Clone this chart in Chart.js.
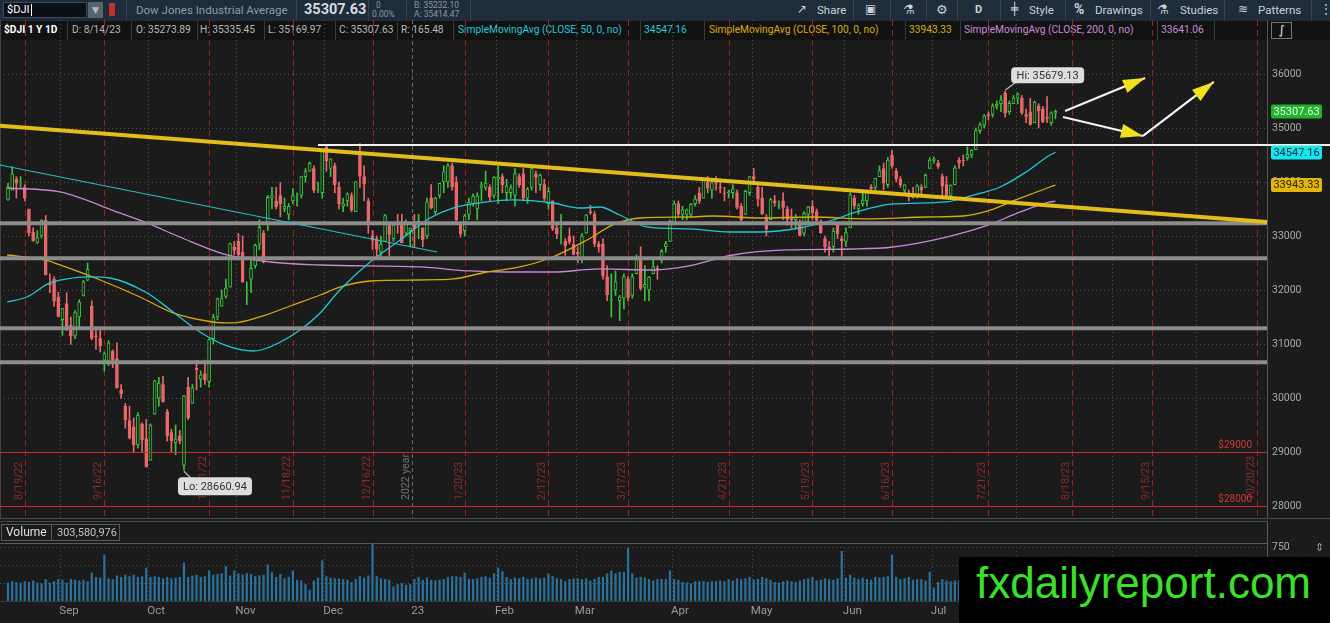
<!DOCTYPE html>
<html>
<head>
<meta charset="utf-8">
<title>$DJI 1 Y 1D</title>
<script src="https://cdn.jsdelivr.net/npm/chart.js"></script>
<style>
  * { box-sizing: border-box; }
  html, body { margin: 0; padding: 0; background: #1b1b1b; }
  body { width: 1330px; height: 623px; overflow: hidden; position: relative; font-family: Roboto, "Noto Sans", sans-serif; }
  .abs { position: absolute; white-space: nowrap; }
  .sym { font-family: "DejaVu Sans", sans-serif; }
  #topbar { left: 0; top: 0; width: 1330px; height: 21px; background: #1f2c39; }
  #topbar .sep { position: absolute; top: 0; width: 1px; height: 21px; background: #34434f; }
  #topbar .t { position: absolute; top: 3px; font-size: 11.5px; color: #c9d2da; }
  #studies { left: 0; top: 21px; width: 1330px; height: 19px; background: #121212; font-size: 10.2px; }
  #studies span { position: absolute; top: 3px; }
  #studies .sep { position: absolute; top: 0; width: 1px; height: 19px; background: #3a3a3a; }
  #price { position: absolute; left: 0; top: 20px; }
  #volume { position: absolute; left: 0; top: 517px; }
  .vbox { border: 1px solid #5a5a5a; height: 17px; line-height: 15px; top: 524px; }
</style>
</head>
<body>

<!-- symbol / toolbar row -->
<div id="topbar" class="abs">
  <div class="abs" style="left:3px;top:2px;width:84px;height:16px;background:#0b1117;border:1px solid #3b4b5b;"></div>
  <span class="abs" style="left:7px;top:3px;color:#fff;font-size:11px;">$DJI</span>
  <div class="abs" style="left:31px;top:4px;width:1px;height:12px;background:#fff;"></div>
  <div class="abs sym" style="left:88px;top:2px;width:15px;height:16px;background:#59636e;color:#b5bcc4;font-size:9px;text-align:center;line-height:16px;">&#9660;</div>
  <div class="abs" style="left:109px;top:3px;width:6px;height:13px;background:#c53030;border-radius:1px;"></div>
  <div class="sep" style="left:126px"></div>
  <span class="t" style="left:136px;color:#8c9cab;">Dow Jones Industrial Average</span>
  <div class="sep" style="left:296px"></div>
  <span class="t" style="left:304px;top:1px;font-size:14.5px;font-weight:bold;color:#d6dce2;">35307.63</span>
  <div class="sep" style="left:368px"></div>
  <span class="abs" style="left:376px;top:0px;font-size:8.5px;color:#8a9aa8;">0</span>
  <span class="abs" style="left:372px;top:9px;font-size:8.5px;color:#8a9aa8;">0.00%</span>
  <div class="sep" style="left:406px"></div>
  <span class="abs" style="left:414px;top:0px;font-size:8.5px;color:#8a9aa8;">B: 35232.10</span>
  <span class="abs" style="left:414px;top:9px;font-size:8.5px;color:#8a9aa8;">A: 35414.47</span>
  <div class="sep" style="left:470px"></div>

  <span class="t sym" style="left:797px;top:2px;font-size:12px;">&#8599;</span>
  <span class="t" style="left:817px;">Share</span>
  <div class="sep" style="left:853px"></div>
  <span class="t sym" style="left:865px;top:2px;font-size:12px;">&#9635;</span>
  <div class="sep" style="left:890px"></div>
  <span class="t sym" style="left:903px;top:2px;font-size:13px;">&#9879;</span>
  <div class="sep" style="left:926px"></div>
  <span class="t sym" style="left:936px;top:2px;font-size:13px;">&#9881;</span>
  <div class="sep" style="left:957px"></div>
  <span class="t" style="left:975px;font-weight:bold;font-size:11px;">D</span>
  <div class="sep" style="left:1000px"></div>
  <span class="t sym" style="left:1011px;top:2px;font-size:12px;">&#9578;</span>
  <span class="t" style="left:1029px;">Style</span>
  <div class="sep" style="left:1065px"></div>
  <span class="t" style="left:1074px;top:1px;font-weight:bold;font-size:14px;">%</span>
  <span class="t" style="left:1095px;">Drawings</span>
  <div class="sep" style="left:1150px"></div>
  <span class="t sym" style="left:1157px;top:2px;font-size:13px;">&#9879;</span>
  <span class="t" style="left:1180px;">Studies</span>
  <div class="sep" style="left:1224px"></div>
  <span class="t sym" style="left:1238px;top:2px;font-size:12px;">&#8779;</span>
  <span class="t" style="left:1258px;">Patterns</span>
  <div class="sep" style="left:1311px"></div>
  <span class="t" style="left:1320px;top:2px;">&#8942;</span>
</div>

<!-- study values row -->
<div id="studies" class="abs">
  <span style="left:4px;color:#fff;font-weight:bold;">$DJI 1 Y 1D</span>
  <div class="sep" style="left:67px"></div>
  <span style="left:72px;color:#b8b8b8;">D: 8/14/23</span>
  <div class="sep" style="left:131px"></div>
  <span style="left:136px;color:#b8b8b8;">O: 35273.89</span>
  <div class="sep" style="left:197px"></div>
  <span style="left:200px;color:#b8b8b8;">H: 35335.45</span>
  <div class="sep" style="left:264px"></div>
  <span style="left:268px;color:#b8b8b8;">L: 35169.97</span>
  <div class="sep" style="left:335px"></div>
  <span style="left:339px;color:#b8b8b8;">C: 35307.63</span>
  <div class="sep" style="left:397px"></div>
  <span style="left:401px;color:#b8b8b8;">R: 165.48</span>
  <div class="sep" style="left:453px"></div>
  <span style="left:458px;color:#25c9d9;">SimpleMovingAvg (CLOSE, 50, 0, no)</span>
  <div class="sep" style="left:640px"></div>
  <span style="left:644px;color:#25c9d9;">34547.16</span>
  <div class="sep" style="left:704px"></div>
  <span style="left:709px;color:#d8ac12;">SimpleMovingAvg (CLOSE, 100, 0, no)</span>
  <div class="sep" style="left:905px"></div>
  <span style="left:909px;color:#d8ac12;">33943.33</span>
  <div class="sep" style="left:960px"></div>
  <span style="left:964px;color:#c98ad9;">SimpleMovingAvg (CLOSE, 200, 0, no)</span>
  <div class="sep" style="left:1157px"></div>
  <span style="left:1161px;color:#c98ad9;">33641.06</span>
  <div class="sep" style="left:1214px"></div>
  <div class="abs sym" style="left:1271px;top:1px;width:21px;height:17px;border:1px solid #777;color:#eee;font-size:12px;text-align:center;line-height:15px;">&#8747;</div>
</div>

<canvas id="price" width="1330" height="499"></canvas>

<div class="abs" style="left:0;top:518px;width:1330px;height:1px;background:#4a4a4a;"></div>
<canvas id="volume" width="1330" height="106"></canvas>
<div class="abs vbox" style="left:1px;width:51px;color:#e2e2e2;font-size:12px;padding-left:4px;">Volume</div>
<div class="abs vbox" style="left:51px;width:69px;color:#c4c4c4;font-size:11px;padding-left:5px;">303,580,976</div>
<span class="abs sym" style="left:1315px;top:541px;color:#999;font-size:11px;">&#8661;</span>

<div class="abs" style="left:959px;top:557px;width:371px;height:66px;background:#000;">
  <span class="abs" style="left:17px;top:4px;font-family:'Liberation Sans',Arial,sans-serif;font-size:44px;line-height:44px;color:#3be02c;">fxdailyreport.com</span>
</div>

<script>
// $DJI daily candles, one entry per trading day from 8/15/22 (day 0) to 8/14/23 (day 250)
const opens = [
  33675, 33850, 34054, 33990, 33900, 33500, 33070, 32880, 33000, 33290, 32120, 32200, 31870,
  31450, 31750, 31350, 31150, 31500, 31900, 32180, 31700, 31150, 31100, 30700, 30680, 30870, 30730, 30150, 29850, 29580, 29460, 29130, 29510, 29250,
  28850, 29700, 30000, 30250, 29750, 29360, 29170, 29300, 28750, 30200, 29900, 30550, 30350, 30450, 30300, 31100, 31500, 31700, 31880, 32050, 32800,
  32900, 32700, 32000, 32200, 32450, 32850, 33050, 33250, 33700, 33650, 33750, 33500, 33400, 33650, 33700, 33750, 34100, 34200, 34250, 33850, 33800,
  34650, 34250, 34300, 33900, 33550, 33650, 33750, 33450, 34500, 34100, 33650, 33000, 32950, 32700, 32900, 33200, 32950, 33250, 33250, 33050, 33100,
  33200, 33200, 33150, 33000, 33700, 33450, 33750, 34000, 34000, 34300, 34000, 33200, 33100, 33400, 33600, 33500, 33900, 33900, 33900, 33750,
  34050, 34100, 33800, 33800, 33750, 34100, 34150, 33700, 33900, 34150, 33950, 33950, 33600, 33650, 33150, 33150, 32900, 33000, 32850,
  32700, 32600, 33050, 33450, 33400, 32850, 32850, 32250, 31800, 32000, 31800, 31850, 32200, 31900, 32300, 32550, 32050, 32000, 32300, 32400, 32550, 32800, 32900,
  33250, 33600, 33400, 33400, 33400, 33600, 33800, 33700, 34000, 33850, 34050, 33900, 33800, 33800, 33800, 33800, 33550, 33400, 33800,
  34100, 33900, 33700, 33350, 33300, 33650, 33550, 33650, 33500, 33350, 33300, 33250, 33050, 33400, 33550, 33450, 33250, 32950, 32800, 32800, 33200, 32950,
  32900, 33150, 33700, 33500, 33600, 33650, 33900, 33900, 34100, 34250, 33950, 34500, 34200, 34050, 33850, 33800, 33750, 33750, 33900, 33900, 34250,
  34400, 34350, 34100, 33950, 33750, 33950, 34400, 34400, 34450, 34500, 34600, 34950, 35050, 35250, 35250, 35400, 35450, 35650, 35300, 35450,
  35550, 35550, 35250, 35300, 35100, 35400, 35350, 35200, 35100, 35273.89
];
const highs = [
  33975, 34281, 34100, 34100, 33950, 33500, 33150, 33100, 33300, 33380, 32300, 32250, 31960,
  31660, 31950, 31500, 31620, 31820, 32180, 32500, 31800, 31300, 31250, 30850, 31060, 30890, 31020, 30250, 29900, 29850, 29630, 29730, 29540, 29600,
  29520, 30330, 30380, 30400, 29790, 29420, 29500, 29400, 30050, 30380, 30250, 30700, 30500, 30700, 31100, 31550, 31850, 32000, 32200, 32870, 32900,
  33050, 33000, 32150, 32550, 32850, 33300, 33100, 33750, 33900, 33900, 33990, 33700, 33600, 33880, 33800, 34100, 34250, 34370, 34300, 34000, 34600,
  34700, 34430, 34350, 34000, 33700, 33800, 33800, 34010, 34712, 34300, 33700, 33100, 33000, 33000, 33400, 33200, 33220, 33400, 33400, 33300, 33150,
  33400, 33400, 33150, 33700, 33950, 33720, 33980, 34300, 34340, 34350, 34100, 33250, 33400, 33700, 33780, 33800, 34000, 34200, 33950, 34100,
  34300, 34150, 34050, 33950, 34250, 34150, 34250, 33900, 34250, 34200, 34150, 34050, 33900, 33650, 33250, 33400, 32950, 33150, 33000,
  32800, 33050, 33400, 33570, 33450, 32900, 32950, 32450, 32300, 32350, 31900, 32300, 32250, 32300, 32650, 32800, 32450, 32250, 32600, 32450, 32750, 32900, 33300,
  33650, 33650, 33550, 33500, 33600, 33750, 33900, 34050, 34100, 33990, 34100, 34000, 33900, 33850, 33950, 33850, 33600, 33850, 34100,
  34250, 33950, 33900, 33400, 33700, 33750, 33650, 33800, 33550, 33500, 33400, 33300, 33450, 33550, 33650, 33500, 33300, 33000, 32900, 33150, 33250, 33000,
  33150, 33800, 33750, 33600, 33800, 33850, 33950, 34070, 34300, 34350, 34450, 34590, 34250, 34100, 33950, 33850, 33900, 33950, 33950, 34150, 34450,
  34460, 34400, 34150, 34100, 33950, 34300, 34450, 34500, 34650, 34600, 35000, 35100, 35250, 35300, 35450, 35500, 35600, 35679.13, 35500, 35600,
  35650, 35600, 35350, 35550, 35500, 35450, 35400, 35580, 35300, 35335.45
];
const lows = [
  33660, 33850, 33700, 33900, 33650, 33000, 32900, 32860, 32960, 32280, 31950, 31700, 31500,
  31160, 31250, 30990, 31100, 31320, 31890, 32170, 31080, 30900, 30850, 30500, 30600, 30560, 30180, 29990, 29440, 29240, 28990, 29070, 29000, 28720,
  28850, 29700, 29850, 29920, 29200, 29000, 28950, 29150, 28660.94, 29600, 29900, 30150, 30200, 30250, 30200, 31000, 31450, 31700, 31850, 32050, 32650,
  32600, 32140, 31730, 31950, 32400, 32750, 32500, 33100, 33500, 33500, 33350, 33450, 33300, 33600, 33550, 33700, 34000, 34200, 33800, 33800, 33700,
  34200, 34100, 33800, 33500, 33450, 33550, 33450, 33450, 33900, 33650, 33050, 32750, 32600, 32580, 32900, 32580, 32900, 33050, 32870, 33000, 32800,
  32800, 32950, 32800, 32950, 33500, 33400, 33700, 33800, 33900, 33850, 33280, 32980, 33000, 33300, 33550, 33300, 33650, 33850, 33650, 33700,
  33600, 33800, 33650, 33700, 33550, 33900, 33650, 33600, 33850, 33800, 33850, 33650, 33500, 33100, 32950, 32850, 32640, 32850, 32650,
  32500, 32500, 33050, 33400, 32800, 32700, 32200, 31800, 31500, 31900, 31430, 31650, 31800, 31850, 32300, 32000, 31800, 31800, 32300, 32200, 32500, 32700, 32900,
  33200, 33350, 33300, 33300, 33350, 33550, 33600, 33700, 33800, 33700, 33850, 33800, 33650, 33700, 33700, 33500, 33250, 33400, 33750,
  33950, 33550, 33400, 33000, 33300, 33550, 33500, 33300, 33200, 33150, 33150, 33000, 33000, 33200, 33300, 33250, 33050, 32700, 32600, 32700, 32950, 32600,
  32800, 33150, 33500, 33400, 33550, 33550, 33800, 33850, 34100, 33850, 33900, 34250, 34000, 33900, 33750, 33650, 33700, 33700, 33750, 33900, 34250,
  34350, 34250, 33700, 33700, 33700, 33950, 34250, 34300, 34400, 34450, 34600, 34900, 35000, 35150, 35200, 35350, 35300, 35200, 35250, 35450,
  35450, 35250, 35100, 35050, 35100, 35000, 35100, 35100, 35050, 35169.97
];
const closes = [
  33912, 34152, 33980, 33999, 33706, 33063, 32909, 32969, 33291, 32283, 32098, 31791, 31510,
  31656, 31318, 31145, 31581, 31775, 32151, 32381, 31105, 31135, 30962, 30822, 31020, 30706, 30184, 30077, 29590, 29260, 29135, 29684, 29226, 28726,
  29490, 30316, 30274, 29927, 29297, 29203, 29240, 29211, 30038, 29635, 30186, 30524, 30424, 30334, 31083, 31500, 31837, 31840, 32034, 32861, 32733,
  32653, 32148, 32001, 32403, 32827, 33161, 32514, 33716, 33748, 33537, 33593, 33554, 33547, 33746, 33700, 34098, 34195, 34347, 33850, 33853, 34590,
  34395, 34430, 33947, 33596, 33598, 33781, 33477, 34005, 34108, 33966, 33203, 32920, 32758, 32850, 33377, 33027, 33204, 33241, 32876, 33221, 33147,
  33136, 33270, 32930, 33631, 33518, 33704, 33973, 34190, 34303, 33911, 33297, 33045, 33375, 33630, 33734, 33744, 33949, 33978, 33717, 34086,
  34093, 33949, 33926, 33891, 34156, 33949, 33699, 33869, 34246, 34089, 34128, 33697, 33827, 33130, 33045, 33154, 32817, 32889, 32657,
  32662, 33004, 33391, 33432, 32856, 32798, 32255, 31910, 31819, 32155, 31875, 32247, 31862, 32245, 32561, 32030, 32106, 32238, 32433, 32395, 32718, 32860, 33274,
  33601, 33403, 33483, 33486, 33587, 33685, 33647, 34030, 33887, 33988, 33977, 33897, 33787, 33809, 33875, 33531, 33302, 33826, 34098,
  34051, 33684, 33414, 33128, 33675, 33619, 33562, 33531, 33309, 33301, 33349, 33012, 33421, 33536, 33427, 33287, 33056, 32800, 32765, 33093, 33043, 32908,
  33062, 33763, 33563, 33573, 33665, 33834, 33877, 34066, 34212, 33979, 34408, 34299, 34054, 33952, 33947, 33727, 33714, 33927, 33853, 34123, 34408,
  34418, 34288, 33922, 33735, 33944, 34262, 34348, 34395, 34509, 34585, 34952, 35061, 35225, 35228, 35411, 35438, 35520, 35282, 35459, 35560,
  35630, 35282, 35216, 35066, 35473, 35314, 35123, 35176, 35281, 35307.63
];
// daily volume, millions
const volumes = [
  250, 270, 260, 250, 270, 260, 280, 250, 240, 300, 250, 270, 300,
  290, 250, 300, 290, 280, 290, 270, 390, 330, 320, 640, 310, 300, 350, 330, 360, 340, 360, 330, 340, 460,
  330, 340, 330, 310, 330, 310, 320, 330, 530, 330, 350, 360, 330, 340, 420, 360, 370, 380, 480, 350, 420,
  380, 360, 380, 370, 340, 350, 360, 500, 400, 330, 370, 310, 330, 420, 290, 280, 230, 150, 280, 320, 560,
  340, 320, 310, 310, 300, 290, 260, 300, 340, 320, 350, 790, 340, 310, 300, 290, 200, 230, 240, 220, 230,
  300, 330, 290, 320, 290, 280, 290, 300, 330, 340, 340, 330, 390, 300, 300, 310, 330, 340, 320, 380,
  460, 410, 330, 300, 320, 310, 330, 300, 310, 320, 310, 320, 380, 340, 310, 300, 270, 300, 310,
  310, 300, 310, 280, 300, 330, 330, 380, 420, 380, 400, 400, 736, 380, 320, 330, 320, 300, 280, 300, 300, 300, 420,
  300, 290, 260, 250, 240, 270, 270, 270, 260, 270, 270, 280, 270, 300, 280, 310, 300, 310, 330,
  290, 300, 330, 310, 290, 260, 250, 270, 280, 270, 260, 280, 300, 310, 330, 280, 290, 310, 300, 290, 310, 690,
  320, 360, 320, 300, 320, 300, 290, 330, 320, 330, 340, 640, 330, 300, 310, 330, 290, 300, 300, 280, 400,
  180, 260, 300, 280, 270, 280, 290, 290, 300, 290, 310, 300, 300, 400, 280, 290, 300, 310, 290, 300,
  300, 320, 300, 310, 280, 300, 290, 300, 270, 303.6
];

// moving averages at sample days
const sma50Days = [-0.2, 4.5, 10, 14.1, 18.9, 24.3, 33.2, 39.4, 45.8, 52.3, 58.5, 62.5, 69.7, 74.5, 79.2, 86.4, 93.6, 100.7, 106.2, 114.3, 120.5, 130, 136.5, 141.3, 146, 152.5, 162.8, 172.3, 179.5, 189, 196.9, 201.7, 211.2, 224, 229.6, 236.8, 243, 248.7, 250];
const sma50 = [31778, 31870, 32130, 32204, 32241, 32222, 31944, 31592, 31222, 30963, 30870, 30944, 31259, 31574, 32000, 32518, 32926, 33333, 33518, 33630, 33667, 33611, 33518, 33537, 33389, 33167, 33130, 33074, 33074, 33148, 33296, 33426, 33593, 33630, 33740, 33907, 34185, 34500, 34547.16];
const sma100Days = [-0.2, 8.8, 12.4, 22, 31.5, 39.4, 48.9, 53.7, 60.1, 68, 74.5, 79.2, 86.4, 98.3, 106.2, 114.3, 122.2, 130, 138.2, 144.4, 150.8, 162.8, 168.3, 179.5, 192.1, 205, 219.3, 228, 233.7, 239.9, 248.7, 250];
const sma100 = [32648, 32556, 32463, 32185, 31870, 31574, 31407, 31389, 31500, 31722, 31907, 32055, 32166, 32185, 32204, 32333, 32426, 32611, 32926, 33204, 33333, 33352, 33370, 33333, 33352, 33315, 33352, 33370, 33460, 33650, 33907, 33943.33];
const sma200Days = [-0.2, 12.4, 26.7, 33.2, 41, 52.3, 62.5, 74.5, 98.3, 110.3, 119, 130, 141.3, 154, 162.8, 173, 186, 201.7, 211.2, 224, 233.7, 241.5, 248.7, 250];
const sma200 = [33889, 33815, 33426, 33241, 32981, 32648, 32518, 32463, 32426, 32352, 32333, 32333, 32389, 32370, 32450, 32648, 32741, 32759, 32796, 32980, 33195, 33440, 33630, 33641.06];

// axes
const dayMin = -1.91, dayMax = 300.5;
const priceMin = 27777, priceMax = 37000;
const priceTicks = [28000, 29000, 30000, 31000, 32000, 33000, 34000, 35000, 36000];
const volumeMax = 806;
const volumeTicks = [250, 500, 750];
const monthLabels = ['Sep', 'Oct', 'Nov', 'Dec', '23', 'Feb', 'Mar', 'Apr', 'May', 'Jun', 'Jul', 'Aug', 'Sep', 'Oct'];
const monthStarts = [13, 34, 55, 76, 97, 117, 136, 159, 178, 200, 221, 241, 264, 284];
const yearBreak = 96.5;
const expiryLabels = ['8/19/22', '9/16/22', '10/21/22', '11/18/22', '12/16/22', '1/20/23', '2/17/23', '3/17/23', '4/21/23', '5/19/23', '6/16/23', '7/21/23', '8/18/23', '9/15/23', '10/20/23'];
const expiryDays = [4, 23, 48, 68, 87, 109, 129, 148, 172, 192, 211, 234, 254, 273, 298];

// drawings on the chart
const supportLevels = [33235, 32587, 31290, 30661];
const alertLevels = [29000, 28000];
const resistanceLevel = 34685, resistanceFrom = 74;
const yellowTrend = [[-1.91, 35043], [300.5, 33259]];
const cyanTrend = [[-1.91, 34315], [102.4, 32704]];
const arrowFrom = [[252.3, 35315], [251.8, 35204], [270.9, 34852]];
const arrowTo = [[271.4, 35926], [270.9, 34852], [287.8, 35852]];

const UP = '#3cc23c', DOWN = '#e8686a', BG = '#1b1b1b';
const isUp = i => closes[i] >= opens[i];

Chart.defaults.font.family = 'Roboto';

function stroke(ctx, x1, y1, x2, y2, color, width, dash) {
  ctx.save();
  ctx.strokeStyle = color;
  ctx.lineWidth = width;
  ctx.setLineDash(dash || []);
  ctx.beginPath();
  ctx.moveTo(x1, y1);
  ctx.lineTo(x2, y2);
  ctx.stroke();
  ctx.restore();
}

function vlabel(ctx, text, x, y, color) {
  ctx.save();
  ctx.translate(x, y);
  ctx.rotate(-Math.PI / 2);
  ctx.font = '10.5px Roboto';
  ctx.fillStyle = color;
  ctx.textAlign = 'left';
  ctx.textBaseline = 'bottom';
  ctx.fillText(text, 0, 0);
  ctx.restore();
}

function bubble(ctx, text, x, y, w, h) {
  ctx.save();
  ctx.fillStyle = '#dedede';
  ctx.beginPath();
  ctx.roundRect(x, y, w, h, 4);
  ctx.fill();
  ctx.fillStyle = '#333';
  ctx.font = '11px Roboto';
  ctx.textAlign = 'center';
  ctx.textBaseline = 'middle';
  ctx.fillText(text, x + w / 2, y + h / 2 + 0.5);
  ctx.restore();
}

function valueBox(ctx, text, x, y, bg, fg) {
  ctx.save();
  ctx.fillStyle = bg;
  ctx.beginPath();
  ctx.roundRect(x, y - 7, 51, 14, 2);
  ctx.fill();
  ctx.fillStyle = fg;
  ctx.font = '11px Roboto';
  ctx.textAlign = 'center';
  ctx.textBaseline = 'middle';
  ctx.fillText(text, x + 25.5, y + 0.5);
  ctx.restore();
}

const priceOverlay = {
  id: 'priceOverlay',
  beforeDatasetsDraw(chart) {
    const { ctx, chartArea: a, scales: { x, y } } = chart;
    priceTicks.forEach(v => {
      const py = Math.round(y.getPixelForValue(v)) + 0.5;
      stroke(ctx, a.left, py, a.right, py, '#505050', 1, [1, 3]);
    });
    monthStarts.forEach(d => {
      if (d === 97) return;
      const px = Math.round(x.getPixelForValue(d - 0.5)) + 0.5;
      stroke(ctx, px, a.top, px, a.bottom, '#505050', 1, [1, 3]);
    });
    const yx = Math.round(x.getPixelForValue(yearBreak)) + 0.5;
    stroke(ctx, yx, a.top, yx, a.bottom, '#6a6a6a', 1, [4, 3]);
    vlabel(ctx, '2022 year', yx - 1, a.bottom - 18, '#707070');
    expiryDays.forEach((d, i) => {
      const px = Math.round(x.getPixelForValue(d)) + 0.5;
      stroke(ctx, px, a.top, px, a.bottom, '#9e2020', 1, [6, 4]);
      vlabel(ctx, expiryLabels[i], px - 1, a.bottom - 18, '#8f2a2a');
    });
    stroke(ctx, a.right + 0.5, a.top, a.right + 0.5, a.bottom, '#555', 1);
    stroke(ctx, 0.5, a.top, 0.5, a.bottom, '#444', 1);
  },
  afterDatasetsDraw(chart) {
    const { ctx, chartArea: a, scales: { x, y } } = chart;
    const pt = p => [x.getPixelForValue(p[0]), y.getPixelForValue(p[1])];

    supportLevels.forEach(v => {
      const py = y.getPixelForValue(v);
      stroke(ctx, a.left, py, a.right, py, '#8c8c8c', 4);
    });
    alertLevels.forEach(v => {
      const py = Math.round(y.getPixelForValue(v)) + 0.5;
      stroke(ctx, a.left, py, a.right, py, '#cf2a2a', 1);
      ctx.save();
      ctx.font = '10px Roboto';
      ctx.fillStyle = '#d23a3a';
      ctx.textAlign = 'right';
      ctx.textBaseline = 'bottom';
      ctx.fillText('$' + v, a.right - 15, py - 2);
      ctx.restore();
    });

    const ry = Math.round(y.getPixelForValue(resistanceLevel));
    stroke(ctx, x.getPixelForValue(resistanceFrom), ry, chart.width, ry, '#f2f2f2', 2);

    let [p1, p2] = [pt(cyanTrend[0]), pt(cyanTrend[1])];
    stroke(ctx, p1[0], p1[1], p2[0], p2[1], '#2bbfcc', 1.2);
    [p1, p2] = [pt(yellowTrend[0]), pt(yellowTrend[1])];
    stroke(ctx, p1[0], p1[1], p2[0], p2[1], '#e2bd1b', 4);

    arrowFrom.forEach((from, i) => {
      const s = pt(from), e = pt(arrowTo[i]);
      const ang = Math.atan2(e[1] - s[1], e[0] - s[0]);
      stroke(ctx, s[0], s[1], e[0], e[1], '#f4f4f4', 2.2);
      ctx.save();
      ctx.translate(e[0], e[1]);
      ctx.rotate(ang);
      ctx.fillStyle = '#f2e21c';
      ctx.beginPath();
      ctx.moveTo(0, 0);
      ctx.lineTo(-22, -7);
      ctx.lineTo(-22, 7);
      ctx.closePath();
      ctx.fill();
      ctx.restore();
    });

    // high / low bubbles
    const hiDay = highs.indexOf(Math.max(...highs));
    const loDay = lows.indexOf(Math.min(...lows));
    const hx = x.getPixelForValue(hiDay), hy = y.getPixelForValue(highs[hiDay]);
    stroke(ctx, hx, hy - 1, hx + 12, hy - 10, '#bdbdbd', 1.2);
    bubble(ctx, 'Hi: ' + highs[hiDay].toFixed(2), hx + 6, hy - 24, 73, 16);
    const lx = x.getPixelForValue(loDay), ly = y.getPixelForValue(lows[loDay]);
    stroke(ctx, lx, ly + 1, lx + 8, ly + 9, '#bdbdbd', 1.2);
    bubble(ctx, 'Lo: ' + lows[loDay].toFixed(2), lx - 6, ly + 7, 74, 18);

    // last values on the price axis
    const bx = a.right + 4;
    valueBox(ctx, sma100[sma100.length - 1].toFixed(2), bx, y.getPixelForValue(sma100[sma100.length - 1]), '#e3b60c', '#2a2200');
    valueBox(ctx, sma50[sma50.length - 1].toFixed(2), bx, y.getPixelForValue(sma50[sma50.length - 1]), '#19e3ef', '#06343a');
    valueBox(ctx, closes[closes.length - 1].toFixed(2), bx, y.getPixelForValue(closes[closes.length - 1]), '#21b52d', '#e8ffe8');
  }
};

const sma = (days, vals, color) => ({
  type: 'line',
  data: days.map((d, i) => ({ x: d, y: vals[i] })),
  borderColor: color,
  borderWidth: 1.3,
  pointRadius: 0,
  cubicInterpolationMode: 'monotone',
  order: 0
});

new Chart(document.getElementById('price'), {
  type: 'bar',
  data: {
    datasets: [
      sma(sma50Days, sma50, '#22c7d8'),
      sma(sma100Days, sma100, '#d6aa10'),
      sma(sma200Days, sma200, '#c887da'),
      {
        label: 'body',
        data: opens.map((o, i) => ({ x: i, y: [o, closes[i]] })),
        backgroundColor: c => isUp(c.dataIndex) ? BG : DOWN,
        borderColor: c => isUp(c.dataIndex) ? UP : DOWN,
        borderWidth: 1,
        borderSkipped: false,
        barThickness: 3,
        grouped: false,
        order: 1
      },
      {
        label: 'wick',
        data: highs.map((h, i) => ({ x: i, y: [lows[i], h] })),
        backgroundColor: c => isUp(c.dataIndex) ? UP : DOWN,
        barThickness: 1,
        grouped: false,
        order: 2
      }
    ]
  },
  options: {
    responsive: false,
    animation: false,
    layout: { padding: { left: 0, right: 0, top: 0, bottom: 1 } },
    plugins: { legend: { display: false }, tooltip: { enabled: false } },
    scales: {
      x: { type: 'linear', min: dayMin, max: dayMax, offset: false, display: false },
      y: {
        position: 'right',
        min: priceMin,
        max: priceMax,
        grid: { display: false, drawTicks: false, tickLength: 0 },
        border: { display: false },
        afterBuildTicks: s => { s.ticks = priceTicks.map(v => ({ value: v })); },
        afterFit: s => { s.width = 63; s.paddingTop = 0; s.paddingBottom = 0; },
        ticks: { color: '#a9a9a9', font: { size: 10.5 }, padding: 5, callback: v => String(v) }
      }
    }
  },
  plugins: [priceOverlay]
});

const volumeOverlay = {
  id: 'volumeOverlay',
  beforeDatasetsDraw(chart) {
    const { ctx, chartArea: a, scales: { x, y } } = chart;
    volumeTicks.forEach(v => {
      const py = Math.round(y.getPixelForValue(v)) + 0.5;
      stroke(ctx, a.left, py, a.right, py, '#4a4a4a', 1, [1, 3]);
    });
    monthStarts.forEach(d => {
      const px = Math.round(x.getPixelForValue(d - 0.5)) + 0.5;
      stroke(ctx, px, a.top, px, a.bottom, '#4a4a4a', 1, [1, 3]);
    });
    stroke(ctx, 0, 4.5, a.right, 4.5, '#4a4a4a', 1);
    stroke(ctx, 0, a.top + 0.5, a.right, a.top + 0.5, '#5a5a5a', 1);
    stroke(ctx, a.right + 0.5, 4, a.right + 0.5, a.bottom, '#5a5a5a', 1);
    stroke(ctx, 0, a.bottom + 0.5, a.right, a.bottom + 0.5, '#3a3a3a', 1);
  },
  afterDraw(chart) {
    const { ctx, chartArea: a, scales: { x } } = chart;
    ctx.save();
    ctx.font = '11.5px Roboto';
    ctx.fillStyle = '#9a9a9a';
    ctx.textAlign = 'left';
    ctx.textBaseline = 'middle';
    monthStarts.forEach((d, i) => {
      ctx.fillText(monthLabels[i], x.getPixelForValue(d - 0.5) - 1, a.bottom + 10);
    });
    ctx.restore();
  }
};

new Chart(document.getElementById('volume'), {
  type: 'bar',
  data: {
    datasets: [{
      label: 'Volume',
      data: volumes.map((v, i) => ({ x: i, y: v })),
      backgroundColor: '#2b7099',
      barThickness: 1.6
    }]
  },
  options: {
    responsive: false,
    animation: false,
    layout: { padding: { left: 0, right: 0, top: 26, bottom: 22 } },
    plugins: { legend: { display: false }, tooltip: { enabled: false } },
    scales: {
      x: { type: 'linear', min: dayMin, max: dayMax, offset: false, display: false },
      y: {
        position: 'right',
        min: 0,
        max: volumeMax,
        grid: { display: false, drawTicks: false, tickLength: 0 },
        border: { display: false },
        afterBuildTicks: s => { s.ticks = volumeTicks.map(v => ({ value: v })); },
        afterFit: s => { s.width = 63; s.paddingTop = 0; s.paddingBottom = 0; },
        ticks: { color: '#a9a9a9', font: { size: 10.5 }, padding: 5, callback: v => String(v) }
      }
    }
  },
  plugins: [volumeOverlay]
});
</script>
</body>
</html>
